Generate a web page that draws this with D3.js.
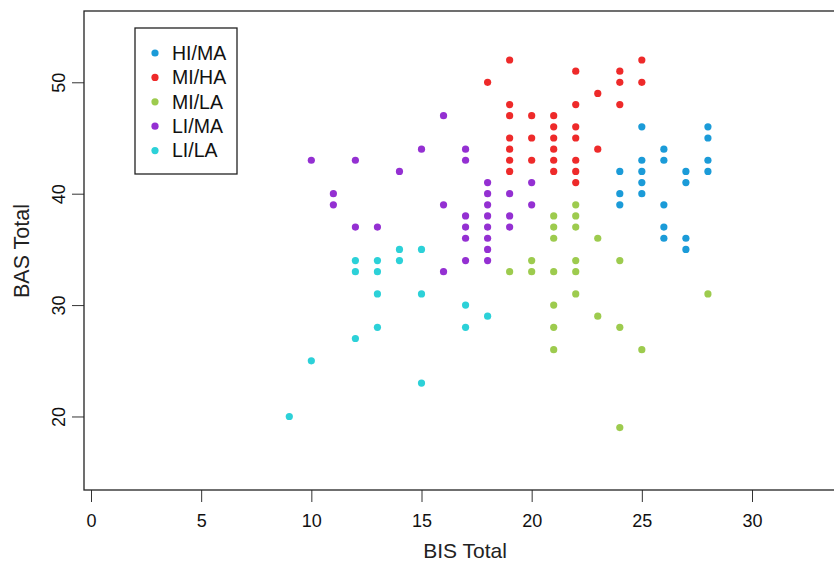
<!DOCTYPE html>
<html>
<head>
<meta charset="utf-8">
<script src="https://cdn.jsdelivr.net/npm/d3@7"></script>
<style>
  body { margin: 0; background: #fff; }
  svg { font-family: "Liberation Sans", Arial, sans-serif; }
</style>
</head>
<body>
<div id="chart"></div>
<script>
var width = 834, height = 564;

// groups, in legend order
var groups = ["HI/MA", "MI/HA", "MI/LA", "LI/MA", "LI/LA"];
var colors = ["#1b9bd8", "#ee2a2a", "#9dcb4e", "#9430d2", "#2cd1d8"];

// [BIS, BAS] pairs per group
var hiMa = [[24,42],[24,40],[24,39],[25,46],[25,43],[25,42],[25,41],[25,40],
    [26,44],[26,43],[26,39],[26,37],[26,36],[27,42],[27,41],[27,36],[27,35],
    [28,46],[28,45],[28,43],[28,42]];
var miHa = [[18,50],[19,52],[19,48],[19,47],[19,45],[19,44],[19,43],[19,42],
    [20,47],[20,45],[20,43],[21,47],[21,46],[21,45],[21,44],[21,43],[21,42],
    [22,51],[22,48],[22,46],[22,45],[22,43],[22,42],[22,41],[23,49],[23,44],
    [24,51],[24,50],[24,48],[25,52],[25,50]];
var miLa = [[19,33],[20,34],[20,33],[21,38],[21,37],[21,36],[21,33],[21,30],
    [21,28],[21,26],[22,39],[22,38],[22,37],[22,34],[22,33],[22,31],[23,36],
    [23,29],[24,34],[24,28],[24,19],[25,26],[28,31]];
var liMa = [[10,43],[11,40],[11,39],[12,43],[12,37],[13,37],[14,42],[15,44],
    [16,47],[16,39],[16,33],[17,44],[17,43],[17,38],[17,37],[17,36],[17,34],
    [18,41],[18,40],[18,39],[18,38],[18,37],[18,36],[18,35],[18,34],
    [19,40],[19,38],[19,37],[20,41],[20,39]];
var liLa = [[9,20],[10,25],[12,34],[12,33],[12,27],[13,34],[13,33],[13,31],
    [13,28],[14,35],[14,34],[15,35],[15,31],[15,23],[17,30],[17,28],[18,29]];

var xTicks = [0, 5, 10, 15, 20, 25, 30];
var yTicks = [20, 30, 40, 50];

var seriesData = [hiMa, miHa, miLa, liMa, liLa];

var svg = d3.select("#chart").append("svg")
    .attr("width", width)
    .attr("height", height);

var box = { left: 84, top: 11, right: 842, bottom: 490 };

var x = d3.scaleLinear().domain([0, 30]).range([91, 752]);
var y = d3.scaleLinear().domain([13.4, 56.4]).range([box.bottom, box.top]);

// x axis
var xAxis = svg.append("g")
    .attr("transform", "translate(0," + box.bottom + ")")
    .call(d3.axisBottom(x).tickValues(xTicks).tickSize(12).tickPadding(12).tickSizeOuter(0));
xAxis.select(".domain").remove();
xAxis.selectAll("line").attr("stroke", "#333");
xAxis.selectAll("text").attr("font-size", 18).attr("fill", "#111")
    .attr("font-family", "Liberation Sans, Arial, sans-serif");

// y axis, labels turned like R does
var yAxis = svg.append("g")
    .attr("transform", "translate(" + box.left + ",0)")
    .call(d3.axisLeft(y).tickValues(yTicks).tickSize(12).tickSizeOuter(0));
yAxis.select(".domain").remove();
yAxis.selectAll("line").attr("stroke", "#333");
yAxis.selectAll("text")
    .attr("font-size", 18).attr("fill", "#111")
    .attr("font-family", "Liberation Sans, Arial, sans-serif")
    .attr("x", 0).attr("dy", 0)
    .attr("text-anchor", "middle")
    .attr("transform", "translate(-19,0) rotate(-90)");

// plot box
svg.append("rect")
    .attr("x", box.left).attr("y", box.top)
    .attr("width", box.right - box.left).attr("height", box.bottom - box.top)
    .attr("fill", "none").attr("stroke", "#222").attr("stroke-width", 1.3);

// points
groups.forEach(function(g, i) {
    svg.append("g").selectAll("circle")
        .data(seriesData[i])
        .enter()
        .append("circle")
        .attr("cx", d => x(d[0]))
        .attr("cy", d => y(d[1]))
        .attr("r", 3.6)
        .attr("fill", colors[i]);
});

// axis titles
svg.append("text")
    .attr("x", 465).attr("y", 558)
    .attr("text-anchor", "middle")
    .attr("font-size", 21).attr("fill", "#222")
    .text("BIS Total");

svg.append("text")
    .attr("transform", "translate(29,251) rotate(-90)")
    .attr("text-anchor", "middle")
    .attr("font-size", 21.5).attr("fill", "#222")
    .text("BAS Total");

// legend
var legend = svg.append("g");
legend.append("rect")
    .attr("x", 135).attr("y", 28)
    .attr("width", 102).attr("height", 146)
    .attr("fill", "#fff").attr("stroke", "#222").attr("stroke-width", 1.3);

var rows = legend.selectAll(".row")
    .data(groups)
    .enter()
    .append("g")
    .attr("transform", (d, i) => "translate(155," + (53 + i * 24.4) + ")");

rows.append("circle")
    .attr("r", 3.6)
    .attr("fill", (d, i) => colors[i]);

rows.append("text")
    .attr("x", 17).attr("dy", "0.35em")
    .attr("font-size", 19.5).attr("fill", "#111")
    .text(d => d);
</script>
</body>
</html>
